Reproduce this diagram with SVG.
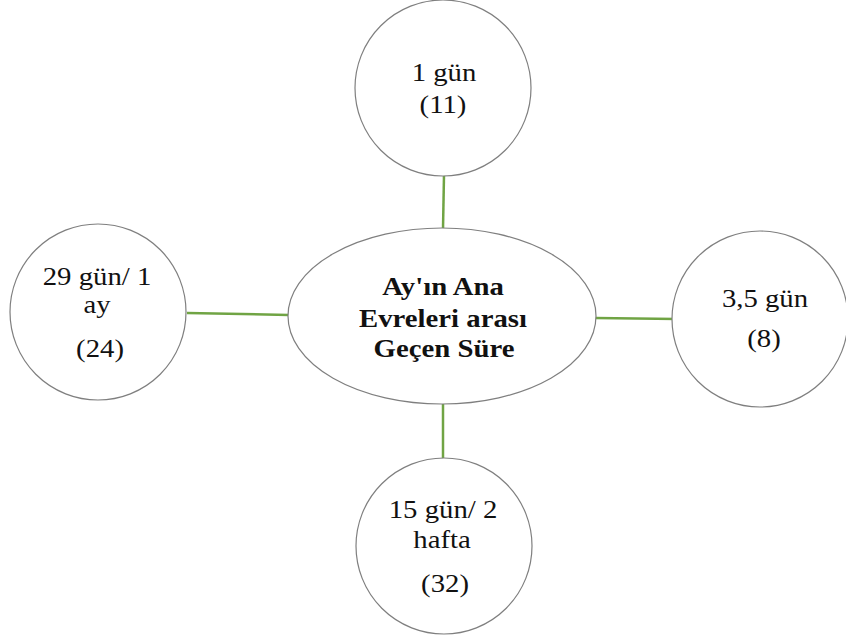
<svg xmlns="http://www.w3.org/2000/svg" width="846" height="639" viewBox="0 0 846 639">
  <style>
    .bubble { fill: #ffffff; stroke: #7f7f7f; stroke-width: 1.2; }
    .link { stroke: #70a444; stroke-width: 2.5; fill: none; }
    .label { font-size: 25px; fill: #111111; text-anchor: middle; }
    .title { font-weight: bold; font-size: 25px; }
  </style>
  <rect width="846" height="639" fill="#ffffff"/>

  <!-- connectors between the hub and the four satellites -->
  <g id="connectors">
    <line class="link" x1="444" y1="175" x2="443" y2="229"/>
    <line class="link" x1="187" y1="313" x2="289" y2="315"/>
    <line class="link" x1="595" y1="318" x2="677" y2="319"/>
    <line class="link" x1="443" y1="404" x2="443" y2="459"/>
  </g>

  <!-- hub -->
  <g id="center" font-family="Liberation Serif, serif">
    <ellipse class="bubble" cx="442" cy="316" rx="154" ry="88"/>
    <text class="label title" transform="translate(443 295) scale(1.15 1)">Ay'ın  Ana</text>
    <text class="label title" transform="translate(443 327) scale(1.15 1)">Evreleri  arası</text>
    <text class="label title" transform="translate(444 357) scale(1.15 1)">Geçen Süre</text>
  </g>

  <g id="top" font-family="Liberation Serif, serif">
    <circle class="bubble" cx="443" cy="88" r="88"/>
    <text class="label" transform="translate(444 81) scale(1.15 1)">1 gün</text>
    <text class="label" transform="translate(443 113) scale(1.15 1)">(11)</text>
  </g>

  <g id="left" font-family="Liberation Serif, serif">
    <circle class="bubble" cx="98" cy="312" r="88"/>
    <text class="label" transform="translate(97 285) scale(1.15 1)">29 gün/ 1</text>
    <text class="label" transform="translate(97 313) scale(1.15 1)">ay</text>
    <text class="label" transform="translate(100 357) scale(1.15 1)">(24)</text>
  </g>

  <g id="right" font-family="Liberation Serif, serif">
    <circle class="bubble" cx="760" cy="319" r="88"/>
    <text class="label" transform="translate(765 307) scale(1.15 1)">3,5 gün</text>
    <text class="label" transform="translate(764 347) scale(1.15 1)">(8)</text>
  </g>

  <g id="bottom" font-family="Liberation Serif, serif">
    <circle class="bubble" cx="444" cy="546" r="88"/>
    <text class="label" transform="translate(443 518) scale(1.15 1)">15 gün/ 2</text>
    <text class="label" transform="translate(442 548) scale(1.15 1)">hafta</text>
    <text class="label" transform="translate(445 592) scale(1.15 1)">(32)</text>
  </g>
</svg>
